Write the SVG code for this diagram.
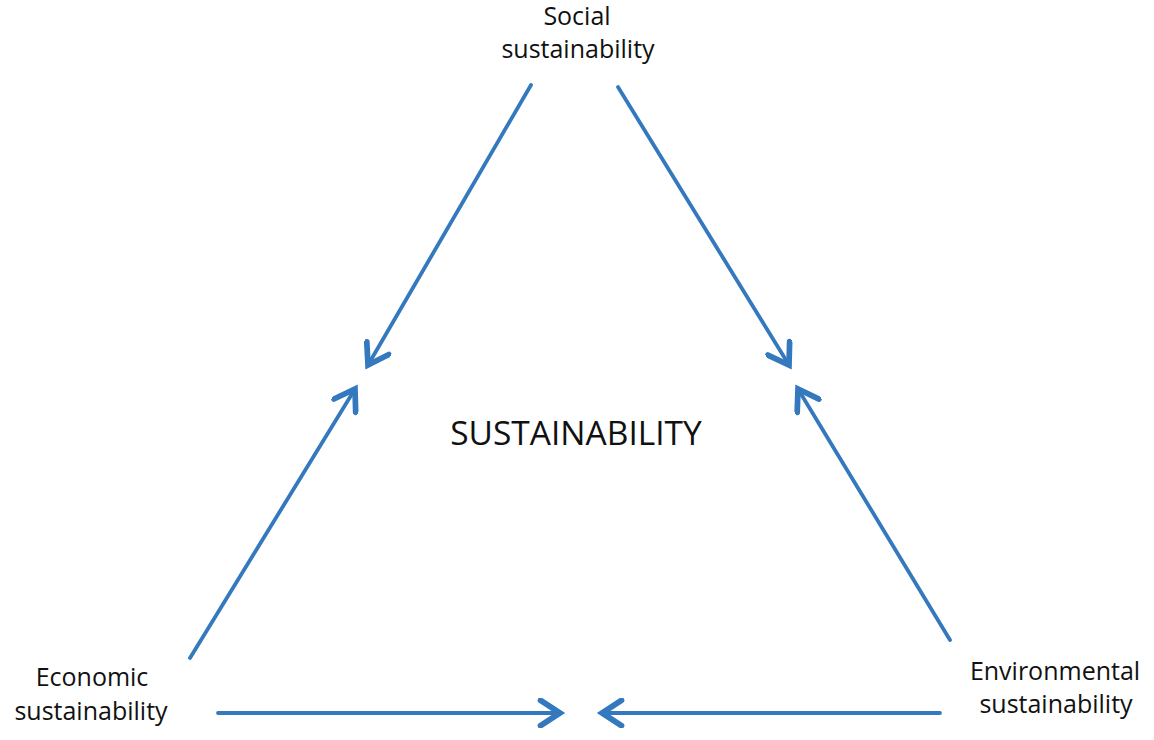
<svg xmlns="http://www.w3.org/2000/svg" width="1154" height="740" viewBox="0 0 1154 740">
<style>
.lbl{font-family:"Open Sans","Liberation Sans",sans-serif;font-size:25px;fill:#111111;text-anchor:middle}
.title{font-family:"Open Sans","Liberation Sans",sans-serif;font-size:33.5px;fill:#111111;text-anchor:middle}
.conn{stroke:#3479bd;stroke-width:3.8;fill:none;stroke-linecap:round;marker-end:url(#arr)}
</style>
<defs>
<marker id="arr" markerUnits="userSpaceOnUse" markerWidth="30" markerHeight="30" viewBox="-16 -10 20 20" refX="0" refY="0" orient="auto">
<path d="M-13,-8.5 L0,0 L-13,8.5" fill="none" stroke="#3479bd" stroke-width="3.8" stroke-linecap="round" stroke-linejoin="miter"/>
</marker>
</defs>
<rect width="1154" height="740" fill="#ffffff"/>
<g id="social"><text class="lbl" x="577" y="25">Social</text><text class="lbl" x="578" y="58">sustainability</text></g>
<g id="economic"><text class="lbl" x="92" y="686">Economic</text><text class="lbl" x="91" y="720">sustainability</text></g>
<g id="environmental"><text class="lbl" x="1055" y="680">Environmental</text><text class="lbl" x="1056" y="713">sustainability</text></g>
<g id="sustainability"><text class="title" x="576" y="445">SUSTAINABILITY</text></g>
<g id="connectors">
<line class="conn" x1="531" y1="85" x2="368" y2="365"/>
<line class="conn" x1="618" y1="87" x2="789" y2="365"/>
<line class="conn" x1="190" y1="658" x2="355" y2="389"/>
<line class="conn" x1="950" y1="640" x2="798" y2="389"/>
<line class="conn" x1="218" y1="713" x2="560" y2="713"/>
<line class="conn" x1="940" y1="713" x2="602" y2="713"/>
</g>
</svg>
